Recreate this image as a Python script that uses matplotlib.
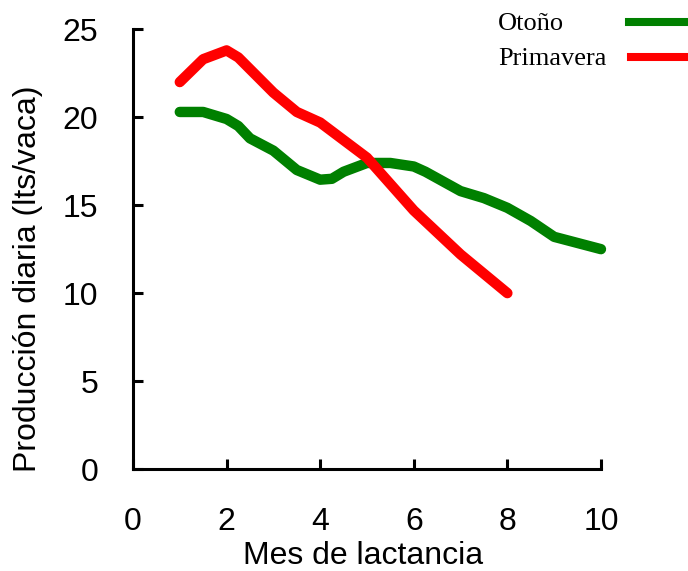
import matplotlib
matplotlib.use('Agg')
import matplotlib.pyplot as plt
from matplotlib.lines import Line2D

# Datos
meses_otono = [1, 1.5, 2, 2.25, 2.5, 3, 3.5, 4, 4.25, 4.5, 5, 5.5, 6, 6.25, 7, 7.5, 8, 8.5, 9, 10]
prod_otono = [20.3, 20.3, 19.9, 19.5, 18.8, 18.1, 17.0, 16.45, 16.5, 16.9, 17.4, 17.4,
              17.2, 16.9, 15.8, 15.4, 14.85, 14.1, 13.2, 12.5]
meses_primavera = [1, 1.5, 2, 2.25, 3, 3.5, 4, 4.5, 5, 5.5, 6, 7, 8]
prod_primavera = [22.0, 23.3, 23.8, 23.4, 21.4, 20.3, 19.7, 18.7, 17.7, 16.2, 14.7, 12.2, 10.0]

x_ticks = [0, 2, 4, 6, 8, 10]
y_ticks = [0, 5, 10, 15, 20, 25]

plt.rcParams['font.family'] = ['Liberation Sans', 'DejaVu Sans']

fig = plt.figure(figsize=(6.88, 5.71), dpi=100)
ax = fig.add_axes([0.1933, 0.1786, 0.6802, 0.7701])

ax.plot(meses_otono, prod_otono, color='#008000', lw=7.5,
        solid_capstyle='round', solid_joinstyle='round', clip_on=False)
ax.plot(meses_primavera, prod_primavera, color='#ff0000', lw=7.5,
        solid_capstyle='round', solid_joinstyle='round', clip_on=False)

ax.set_xlim(0, 10)
ax.set_ylim(0, 25)
ax.set_xticks(x_ticks)
ax.set_yticks(y_ticks)
for s in ['top', 'right']:
    ax.spines[s].set_visible(False)
for s in ['left', 'bottom']:
    ax.spines[s].set_linewidth(2.2)
ax.tick_params(direction='in', length=7, width=2.2, labelsize=23)
ax.tick_params(axis='x', pad=27)
ax.tick_params(axis='y', pad=25)

fig.text(0.527, 0.012, 'Mes de lactancia', fontsize=23, ha='center', va='baseline')
fig.text(0.041, 0.173, 'Producción diaria (lts/vaca)', fontsize=23,
         rotation=90, ha='center', va='bottom')

# Leyenda
fig.text(0.7238, 0.958, 'Otoño', family='Liberation Serif', fontsize=19, va='center')
fig.text(0.7238, 0.897, 'Primavera', family='Liberation Serif', fontsize=19, va='center')
fig.add_artist(Line2D([0.914, 1.0], [0.9615, 0.9615], color='#008000', lw=5.8))
fig.add_artist(Line2D([0.917, 1.0], [0.9002, 0.9002], color='#ff0000', lw=5.8))

fig.savefig('out.png', dpi=100)
